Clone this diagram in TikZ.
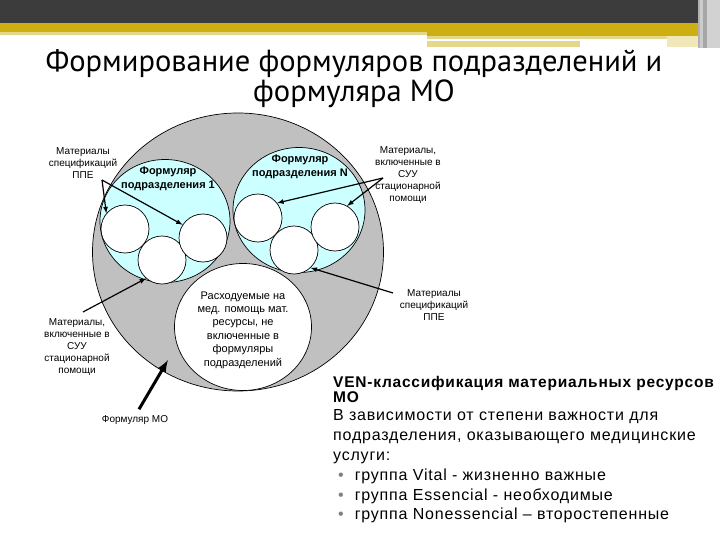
\documentclass[tikz,border=0pt]{standalone}
\usepackage{fontspec}
\setmainfont{Liberation Sans}
\newfontfamily\titlefont{PT Sans}
\newfontfamily\venfont[LetterSpace=5]{Liberation Sans}
\usetikzlibrary{shapes,arrows,positioning}
\definecolor{hdark}{HTML}{3C3C3C}
\definecolor{hgold}{HTML}{CDAF14}
\definecolor{hlight}{HTML}{E6D88A}
\definecolor{mogray}{HTML}{C0C0C0}
\definecolor{unitcyan}{HTML}{CCFFFF}
\tikzstyle{mo}=[ellipse,draw=black,fill=mogray,line width=0.7pt,inner sep=0pt]
\tikzstyle{unit}=[ellipse,draw=black,fill=unitcyan,line width=0.7pt,inner sep=0pt]
\tikzstyle{rest}=[ellipse,draw=black,fill=white,line width=0.7pt,inner sep=0pt]
\tikzstyle{rlbl}=[align=center,font=\fontsize{11}{13.4}\selectfont,inner sep=0pt]
\tikzstyle{item}=[circle,draw=black,fill=white,line width=0.7pt,minimum size=48pt,inner sep=0pt]
\tikzstyle{lbl}=[align=center,font=\fontsize{10}{12}\selectfont,inner sep=0pt]
\tikzstyle{ulbl}=[align=center,font=\bfseries\fontsize{11}{13.5}\selectfont,inner sep=0pt]
\tikzstyle{ptr}=[-latex,line width=1.2pt]

\begin{document}
\begin{tikzpicture}[x=1pt,y=-1pt]
            \useasboundingbox (0,0) rectangle (720,540);

            % HEADER PART

            \fill[hdark] (0,0) rectangle (720,23);
            \fill[hgold] (0,23) rectangle (720,32);
            \fill[hlight] (0,32) rectangle (427,35);
            \fill[hgold] (427,32) rectangle (698,36);
            \fill[hlight] (427,36) rectangle (698,39);
            \fill[hlight] (427,41) rectangle (580,47);
            \fill[hlight!60] (667,36) rectangle (698,47);
            \fill[gray!60] (698,0) rectangle (700,48);
            \fill[gray!40] (700,0) rectangle (703,48);
            \fill[gray!70] (703,0) rectangle (707,48);
            \fill[gray!35] (707,0) rectangle (720,48);

            \node[font=\titlefont\fontsize{30.5}{30}\selectfont,align=center] (title) at (354,79)
            {Формирование формуляров подразделений и\\ формуляра МО};

            % CIRCLES PART

            \node[mo,minimum width=291pt,minimum height=278pt] (mo) at (238,252) {};
            \node[unit,minimum width=130pt,minimum height=123pt] (u1) at (165,221) {};
            \node[unit,minimum width=132pt,minimum height=125pt] (un) at (299,210) {};
            \node[rest,minimum width=137pt,minimum height=127pt] (rest) at (243,327) {};
            \node[rlbl] (restlbl) at (243,330)
            {Расходуемые на\\ мед. помощь мат.\\ ресурсы, не\\ включенные в\\ формуляры\\ подразделений};

            \node[item] (a1) at (125,229) {};
            \node[item] (b1) at (162,260) {};
            \node[item] (c1) at (203,238) {};
            \node[item] (an) at (258,218) {};
            \node[item] (bn) at (294,250) {};
            \node[item] (cn) at (335,227) {};

            \node[ulbl] (u1lbl) at (168,179) {Формуляр\\ подразделения 1};
            \node[ulbl] (unlbl) at (300,167) {Формуляр\\ подразделения N};

            % LABELS PART

            \node[lbl] (ppe1) at (83,163) {Материалы\\ спецификаций\\ ППЕ};
            \node[lbl] (suu1) at (408,175) {Материалы,\\ включенные в\\ СУУ\\ стационарной\\ помощи};
            \node[lbl] (ppe2) at (434,305) {Материалы\\ спецификаций\\ ППЕ};
            \node[lbl] (suu2) at (77,347) {Материалы,\\ включенные в\\ СУУ\\ стационарной\\ помощи};
            \node[lbl] (molbl) at (135,420) {Формуляр МО};

            \coordinate (ppe1tip) at (102,180);
            \coordinate (suu1tip) at (383,178);
            \coordinate (ppe2tip) at (393,293);
            \coordinate (suu2tip) at (83,312);
            \coordinate (moend) at (168,360);

            \path[ptr] (ppe1tip) edge (a1.140);
            \path[ptr] (ppe1tip) edge (c1.147);
            \path[ptr] (suu1tip) edge (an.38);
            \path[ptr] (suu1tip) edge (cn.60);
            \path[ptr] (ppe2tip) edge (bn.313);
            \path[ptr] (suu2tip) edge (b1.229);
            \draw[-latex,line width=3pt] (molbl.north) ++(4,-6) -- (moend);

            % VEN PART

            \node[anchor=north west,align=left,inner sep=0pt,
            font=\venfont\bfseries\fontsize{15.5}{15}\selectfont] (venhead) at (333,376)
            {VEN-классификация материальных ресурсов\\ МО};
            \node[below=7pt of venhead.south west,anchor=north west,align=left,inner sep=0pt,
            font=\venfont\fontsize{16}{19.8}\selectfont] (venbody)
            {В зависимости от степени важности для\\
            подразделения, оказывающего медицинские\\
            услуги:\\
            \hspace*{5pt}{\color{gray}•}\hspace{11pt}группа Vital - жизненно важные\\
            \hspace*{5pt}{\color{gray}•}\hspace{11pt}группа Essencial - необходимые\\
            \hspace*{5pt}{\color{gray}•}\hspace{11pt}группа Nonessencial – второстепенные};

\end{tikzpicture}
\end{document}
